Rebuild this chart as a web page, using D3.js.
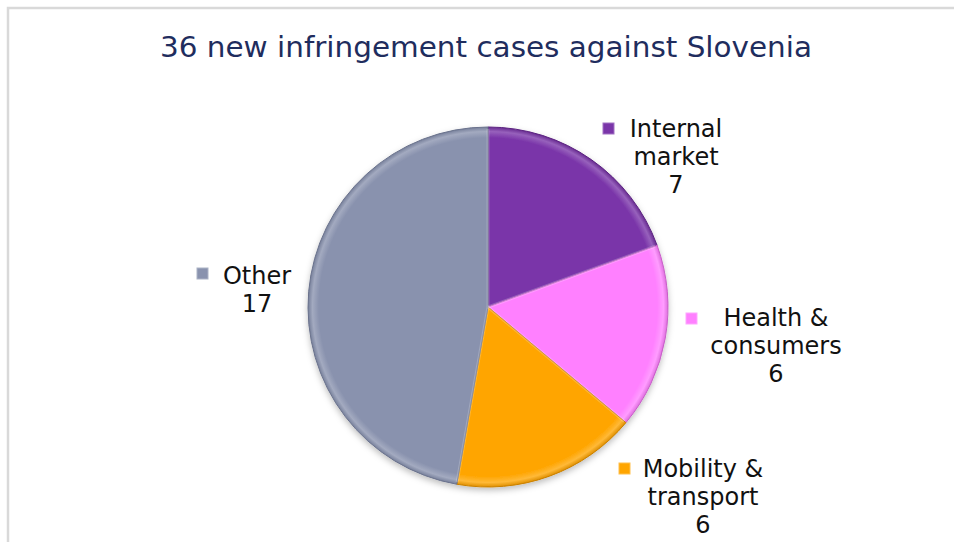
<!DOCTYPE html>
<html lang="en">
<head>
    <meta charset="UTF-8">
    <title>Infringement cases against Slovenia</title>
    <script src="https://cdn.jsdelivr.net/npm/d3@7"></script>
    <style>
        body {
            margin: 0;
            background-color: #fff;
            font-family: "DejaVu Sans", Verdana, sans-serif;
        }
        svg { display: block; }
    </style>
</head>
<body>
    <div id="chart"></div>
    <script>
        const categories = ["Internal market", "Health & consumers", "Mobility & transport", "Other"];
        const values = [7, 6, 6, 17];
        const colors = ["#7a35a9", "#ff80ff", "#ffa500", "#8992ae"];
        const edgeColors = ["#5b2380", "#c860c8", "#c98000", "#6a728c"];
        // label lines as they wrap in the original
        const labelLines = [["Internal", "market", "7"], ["Health &", "consumers", "6"], ["Mobility &", "transport", "6"], ["Other", "17"]];

        const width = 954, height = 542;
        const cx = 488, cy = 307, radius = 180;

        const svg = d3.select("#chart").append("svg")
            .attr("width", width)
            .attr("height", height);

        const defs = svg.append("defs");

        // soft shadow under the pie
        const shadow = defs.append("filter").attr("id", "shadow")
            .attr("x", "-20%").attr("y", "-20%").attr("width", "140%").attr("height", "140%");
        shadow.append("feDropShadow")
            .attr("dx", 0).attr("dy", 3).attr("stdDeviation", 3)
            .attr("flood-color", "#000").attr("flood-opacity", 0.25);

        // bevel look: lighter band near the rim of each slice
        colors.forEach((c, i) => {
            const g = defs.append("radialGradient").attr("id", "grad" + i)
                .attr("gradientUnits", "userSpaceOnUse")
                .attr("cx", 0).attr("cy", 0).attr("r", radius);
            const light = d3.interpolateRgb(c, "#fff")(0.22);
            g.append("stop").attr("offset", "0%").attr("stop-color", c);
            g.append("stop").attr("offset", "94%").attr("stop-color", c);
            g.append("stop").attr("offset", "97.5%").attr("stop-color", light);
            g.append("stop").attr("offset", "100%").attr("stop-color", d3.interpolateRgb(c, edgeColors[i])(0.6));
        });

        // outer frame of the slide
        svg.append("path")
            .attr("d", `M8,${height} L8,8 L${width},8`)
            .attr("fill", "none")
            .attr("stroke", "#d9d9d9")
            .attr("stroke-width", 2.5);

        svg.append("text")
            .attr("x", 486)
            .attr("y", 57)
            .attr("text-anchor", "middle")
            .attr("fill", "#1f2d5e")
            .attr("font-size", 28)
            .attr("textLength", 652)
            .attr("lengthAdjust", "spacingAndGlyphs")
            .text("36 new infringement cases against Slovenia");

        const pie = d3.pie().sort(null).value(d => d);
        const arc = d3.arc().innerRadius(0).outerRadius(radius);
        const arcs = pie(values);

        const g = svg.append("g")
            .attr("transform", `translate(${cx},${cy})`)
            .attr("filter", "url(#shadow)");

        g.selectAll("path")
            .data(arcs)
            .enter().append("path")
            .attr("d", arc)
            .attr("fill", (d, i) => `url(#grad${i})`)
            .attr("stroke", (d, i) => edgeColors[i])
            .attr("stroke-width", 1)
            .attr("stroke-linejoin", "round");

        // light line along the radial edges (bevel)
        g.selectAll("line.bevel")
            .data(arcs)
            .enter().append("line")
            .attr("class", "bevel")
            .attr("x1", 0).attr("y1", 0)
            .attr("x2", d => Math.sin(d.startAngle) * (radius - 2))
            .attr("y2", d => -Math.cos(d.startAngle) * (radius - 2))
            .attr("stroke", "#fff")
            .attr("stroke-opacity", 0.2)
            .attr("stroke-width", 3);

        // label anchors: square position and text centre, first baseline
        const labelPos = [
            { sx: 603, sy: 123, tx: 676, ty: 137 },
            { sx: 686, sy: 313, tx: 776, ty: 326 },
            { sx: 619, sy: 463, tx: 703, ty: 477 },
            { sx: 197, sy: 268, tx: 257, ty: 284 }
        ];
        const lineH = 28;

        const labels = svg.selectAll("g.label")
            .data(arcs)
            .enter().append("g")
            .attr("class", "label");

        labels.append("rect")
            .attr("x", (d, i) => labelPos[i].sx)
            .attr("y", (d, i) => labelPos[i].sy)
            .attr("width", 11)
            .attr("height", 11)
            .attr("fill", (d, i) => colors[i])
            .attr("stroke", (d, i) => d3.interpolateRgb(colors[i], "#fff")(0.3))
            .attr("stroke-width", 1);

        labels.each(function (d, i) {
            const t = d3.select(this).append("text")
                .attr("text-anchor", "middle")
                .attr("font-size", 24)
                .attr("fill", "#111");
            labelLines[i].forEach((s, k) => {
                t.append("tspan")
                    .attr("x", labelPos[i].tx)
                    .attr("y", labelPos[i].ty + k * lineH)
                    .text(s);
            });
        });
    </script>
</body>
</html>
